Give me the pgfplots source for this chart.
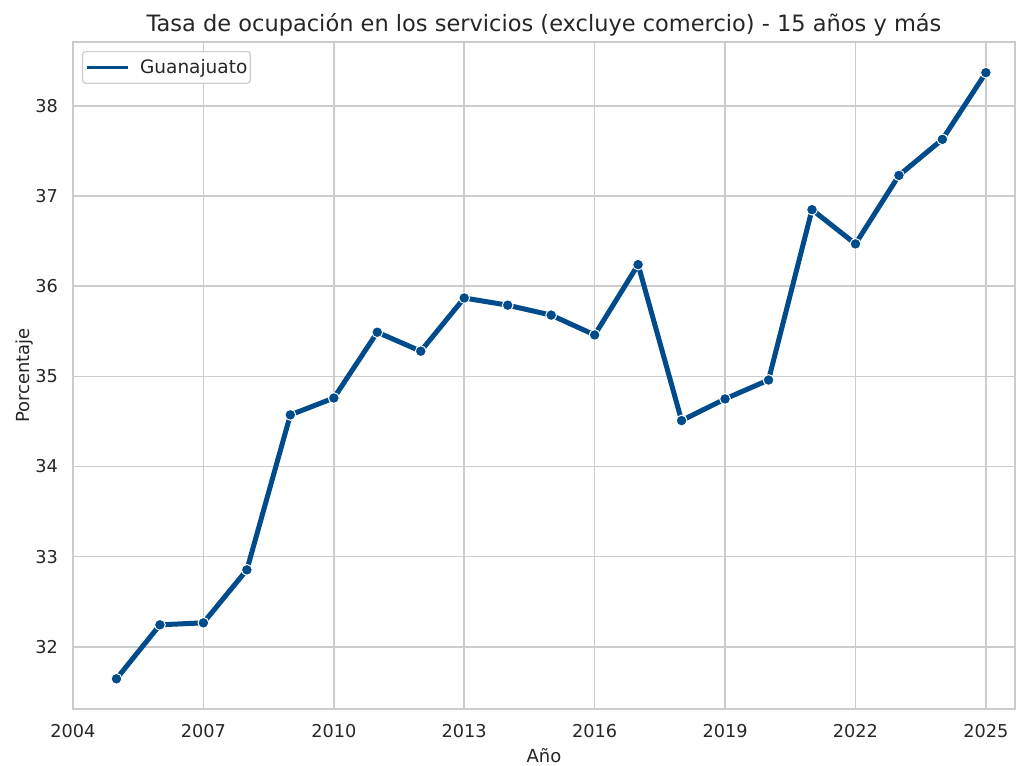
\documentclass[border=0pt]{standalone}
\usepackage{fontspec}
\setmainfont{DejaVu Sans}
\usepackage{pgfplots}
\pgfplotsset{compat=1.18}
\definecolor{lineblue}{RGB}{0,75,140}
\definecolor{gridgray}{RGB}{204,204,204}
\definecolor{txt}{RGB}{38,38,38}
\begin{document}
\begin{tikzpicture}
\path[use as bounding box] (-73pt,-56pt) rectangle (943pt,709pt);
\begin{axis}[
  at={(0pt,0pt)}, anchor=south west,
  scale only axis, width=942pt, height=667pt,
  xmin=2004, xmax=2025.67, ymin=31.31, ymax=38.71,
  xtick={2004,2007,2010,2013,2016,2019,2022,2025},
  ytick={32,33,34,35,36,37,38},
  /pgf/number format/assume math mode=true,
  /pgf/number format/1000 sep={},
  major tick length=0pt,
  grid=major,
  major grid style={gridgray, line width=1.6pt},
  axis line style={gridgray, line width=1.6pt},
  tick label style={font=\fontsize{17.7}{20}\selectfont, text=txt},
  xticklabel style={anchor=base, yshift=-28pt, inner sep=0pt},
  yticklabel style={anchor=east, xshift=-15pt, inner sep=0pt},
  title={Tasa de ocupación en los servicios (excluye comercio) - 15 años y más},
  title style={at={(axis description cs:0.5,1.007)}, anchor=base, yshift=0pt, font=\fontsize{22.5}{26}\selectfont, text=txt, inner sep=0pt},
  xlabel={Año},
  xlabel style={at={(axis description cs:0.5,-0.080)}, anchor=base, font=\fontsize{18}{21}\selectfont, text=txt, inner sep=0pt},
  ylabel={Porcentaje},
  ylabel style={at={(axis description cs:-0.0467,0.5)}, anchor=base, rotate=0, font=\fontsize{18}{21}\selectfont, text=txt, inner sep=0pt},
  legend style={at={(axis description cs:0.00955,0.9865)}, anchor=north west, draw=gridgray, line width=1.2pt, rounded corners=3pt, fill=white, font=\fontsize{18.5}{21}\selectfont, text=txt, inner xsep=3pt, inner ysep=8pt, nodes={inner sep=0pt}},
  legend cell align=left,
  legend image code/.code={\draw[line width=3.5pt, lineblue] (0pt,0pt) -- (41pt,0pt);},
]
\addplot[lineblue, line width=5pt, line join=round, mark=*, mark size=5.4pt, mark options={fill=lineblue, draw=white, line width=1pt}]
coordinates {
(2005,31.645) (2006,32.244) (2007,32.266) (2008,32.854) (2009,34.573)
(2010,34.76) (2011,35.49) (2012,35.28) (2013,35.87) (2014,35.79)
(2015,35.68) (2016,35.46) (2017,36.24) (2018,34.51) (2019,34.75)
(2020,34.96) (2021,36.85) (2022,36.47) (2023,37.23) (2024,37.63)
(2025,38.37)
};
\addlegendentry{\hspace{10pt}Guanajuato\hspace{8pt}}
\end{axis}
\end{tikzpicture}
\end{document}
